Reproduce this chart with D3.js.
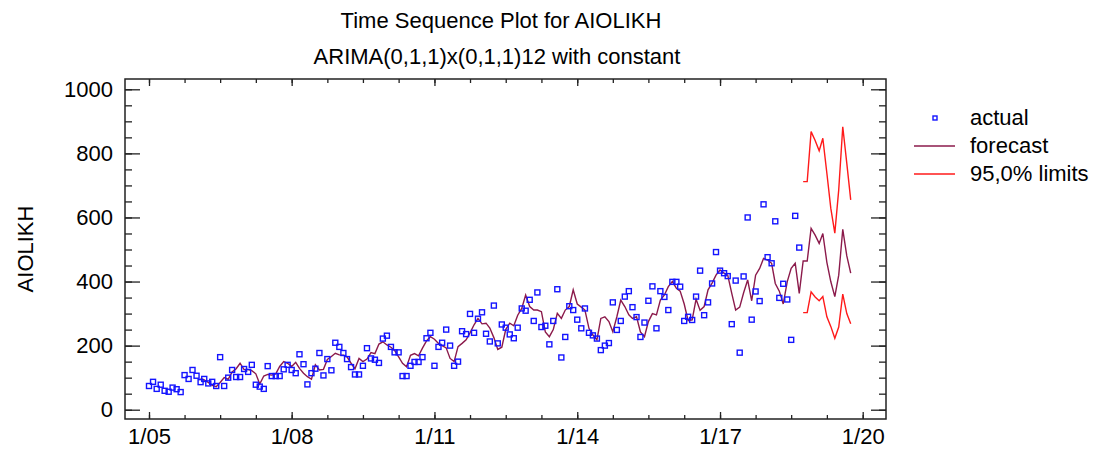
<!DOCTYPE html>
<html>
<head>
<meta charset="utf-8">
<script src="https://cdn.jsdelivr.net/npm/d3@7"></script>
<style>
  body { margin: 0; background: #fff; }
  text { font-family: "Liberation Sans", Arial, sans-serif; fill: #000; }
</style>
</head>
<body>
<div id="chart"></div>
<script>
// monthly series, AIOLIKH, starting 1/05
var actualStart = new Date(2005, 0, 1);
var actual = [
  74, 87, 65, 78, 59, 56, 69, 64, 55, 108, 96, 124,
  106, 86, 96, 82, 87, 74, 164, 74, 100, 124, 102, 102,
  127, 118, 140, 78, 72, 65, 136, 105, 105, 105, 126, 140,
  124, 114, 173, 142, 79, 114, 128, 177, 107, 158, 123, 209,
  196, 177, 158, 133, 110, 110, 137, 192, 160, 156, 146, 222,
  231, 196, 179, 179, 105, 105, 137, 149, 149, 164, 223, 240,
  137, 196, 209, 250, 200, 137, 150, 245, 236, 299, 240, 284,
  304, 237, 213, 325, 207, 266, 256, 235, 223, 256, 316, 309,
  343, 277, 366, 258, 262, 204, 277, 376, 163, 227, 323, 311,
  281, 254, 316, 240, 232, 222, 186, 200, 208, 335, 249, 277,
  353, 370, 320, 289, 227, 272, 340, 385, 254, 370, 352, 311,
  399, 399, 384, 277, 290, 280, 353, 434, 295, 335, 394, 492,
  434, 426, 417, 267, 403, 178, 416, 600, 281, 369, 339, 641,
  476, 457, 588, 349, 393, 344, 218, 605, 506
];

// one-step-ahead forecasts from 2/06, then forecasts beyond the data
var forecastStart = new Date(2006, 1, 1);
var forecast = [
  98, 93, 85, 76, 72, 85, 100, 95, 118, 128, 145,
  125, 125, 122, 112, 80, 105, 110, 108, 112, 135, 150, 145,
  135, 148, 129, 114, 103, 95, 140, 124, 126, 157, 166, 176,
  171, 170, 165, 145, 128, 160, 150, 158, 178, 175, 205, 212,
  202, 195, 185, 165, 145, 134, 170, 175, 168, 192, 215, 228,
  220, 207, 200, 193, 160, 150, 197, 207, 218, 240, 265, 285,
  268, 270, 255, 225, 188, 195, 250, 270, 262, 295, 316, 358,
  322, 311, 311, 306, 243, 228, 250, 301, 285, 311, 322, 374,
  330, 320, 311, 254, 233, 218, 285, 290, 275, 243, 290, 342,
  322, 296, 285, 290, 243, 228, 275, 300, 296, 342, 358, 384,
  400, 379, 370, 330, 278, 280, 345, 310, 322, 374, 395, 420,
  436, 426, 420, 363, 311, 320, 365, 405, 340, 420, 441, 472,
  467, 457, 394, 370, 330, 400, 441, 457, 363,
  464, 464, 566, 545, 519, 550, 460, 400, 353, 420, 563, 480, 426
];

// 95% limits over the forecast period (from 10/18)
var limitsStart = new Date(2018, 9, 1);
var upper = [712, 712, 868, 840, 808, 847, 738, 629, 551, 686, 883, 769, 655];
var lower = [303, 303, 368, 352, 340, 353, 290, 260, 223, 258, 361, 300, 268];

var yMajor = [0, 200, 400, 600, 800, 1000];
var legendLabels = ["actual", "forecast", "95,0% limits"];

var width = 1094, height = 452;
var frame = { left: 125, right: 886, top: 79, bottom: 419 };
var blue = "#1414ff", maroon = "#8b1a4b", red = "#ff1a1a";
var fontSize = "22px";

function monthly(start, values) {
  return values.map(function(v, i) {
    return { date: d3.timeMonth.offset(start, i), value: v };
  });
}

var svg = d3.select("#chart")
  .append("svg")
  .attr("width", width)
  .attr("height", height);

var x = d3.scaleTime()
  .domain([new Date(2005, 0, 1), new Date(2020, 0, 1)])
  .range([149, 862.7]);

var y = d3.scaleLinear()
  .domain([0, 1000])
  .range([409.7, 89.3]);

// titles
svg.append("text")
  .attr("x", 501).attr("y", 28)
  .attr("text-anchor", "middle")
  .style("font-size", fontSize)
  .text("Time Sequence Plot for AIOLIKH");

svg.append("text")
  .attr("x", 497).attr("y", 64)
  .attr("text-anchor", "middle")
  .style("font-size", fontSize)
  .text("ARIMA(0,1,1)x(0,1,1)12 with constant");

svg.append("text")
  .attr("transform", "translate(33,249) rotate(-90)")
  .attr("text-anchor", "middle")
  .style("font-size", fontSize)
  .text("AIOLIKH");

// axes: ticks point into the frame
var xMajor = d3.range(0, 181, 36).map(function(i) { return d3.timeMonth.offset(actualStart, i); });
var xMinor = d3.range(0, 181, 9).map(function(i) { return d3.timeMonth.offset(actualStart, i); });
var yMinor = d3.range(0, 1001, 50);

function styleAxis(g) {
  g.select(".domain").remove();
  g.selectAll("line").attr("stroke", "#222").attr("stroke-width", 1.3);
  g.selectAll("text").style("font-size", fontSize).attr("fill", "#000");
}

svg.append("g")
  .attr("transform", "translate(0," + frame.bottom + ")")
  .call(d3.axisBottom(x).tickValues(xMinor).tickSize(-4).tickFormat(""))
  .call(styleAxis);
svg.append("g")
  .attr("transform", "translate(0," + frame.bottom + ")")
  .call(d3.axisBottom(x).tickValues(xMajor).tickSize(-7).tickPadding(9)
    .tickFormat(d3.timeFormat("%-m/%y")))
  .call(styleAxis);
svg.append("g")
  .attr("transform", "translate(0," + frame.top + ")")
  .call(d3.axisTop(x).tickValues(xMinor).tickSize(-4).tickFormat(""))
  .call(styleAxis);
svg.append("g")
  .attr("transform", "translate(0," + frame.top + ")")
  .call(d3.axisTop(x).tickValues(xMajor).tickSize(-7).tickFormat(""))
  .call(styleAxis);

svg.append("g")
  .attr("transform", "translate(" + frame.left + ",0)")
  .call(d3.axisLeft(y).tickValues(yMinor).tickSize(-7).tickFormat(""))
  .call(styleAxis);
svg.append("g")
  .attr("transform", "translate(" + frame.left + ",0)")
  .call(d3.axisLeft(y).tickValues(yMajor).tickSize(-15).tickPadding(12)
    .tickFormat(d3.format("d")))
  .call(styleAxis);
svg.append("g")
  .attr("transform", "translate(" + frame.right + ",0)")
  .call(d3.axisRight(y).tickValues(yMinor).tickSize(-7).tickFormat(""))
  .call(styleAxis);
svg.append("g")
  .attr("transform", "translate(" + frame.right + ",0)")
  .call(d3.axisRight(y).tickValues(yMajor).tickSize(-15).tickFormat(""))
  .call(styleAxis);

svg.append("rect")
  .attr("x", frame.left).attr("y", frame.top)
  .attr("width", frame.right - frame.left)
  .attr("height", frame.bottom - frame.top)
  .attr("fill", "none")
  .attr("stroke", "#222")
  .attr("stroke-width", 1.5);

// series
var line = d3.line()
  .x(function(d) { return x(d.date); })
  .y(function(d) { return y(d.value); });

svg.append("path")
  .datum(monthly(forecastStart, forecast))
  .attr("d", line)
  .attr("fill", "none")
  .attr("stroke", maroon)
  .attr("stroke-width", 1.4);

[upper, lower].forEach(function(vals) {
  svg.append("path")
    .datum(monthly(limitsStart, vals))
    .attr("d", line)
    .attr("fill", "none")
    .attr("stroke", red)
    .attr("stroke-width", 1.4);
});

svg.append("g")
  .selectAll("rect")
  .data(monthly(actualStart, actual))
  .join("rect")
  .attr("x", function(d) { return x(d.date) - 2.5; })
  .attr("y", function(d) { return y(d.value) - 2.5; })
  .attr("width", 5)
  .attr("height", 5)
  .attr("fill", "none")
  .attr("stroke", blue)
  .attr("stroke-width", 1.4);

// legend
var legend = svg.append("g").attr("transform", "translate(914,118)");
legend.append("rect")
  .attr("x", 19).attr("y", -2).attr("width", 4).attr("height", 4)
  .attr("fill", "none").attr("stroke", blue).attr("stroke-width", 1.4);
legend.append("line")
  .attr("x1", 0).attr("x2", 41).attr("y1", 28).attr("y2", 28)
  .attr("stroke", maroon).attr("stroke-width", 1.6);
legend.append("line")
  .attr("x1", 0).attr("x2", 41).attr("y1", 56).attr("y2", 56)
  .attr("stroke", red).attr("stroke-width", 1.6);
legend.selectAll("text")
  .data(legendLabels)
  .join("text")
  .attr("x", 56)
  .attr("y", function(d, i) { return i * 28 + 7; })
  .style("font-size", fontSize)
  .text(function(d) { return d; });
</script>
</body>
</html>
